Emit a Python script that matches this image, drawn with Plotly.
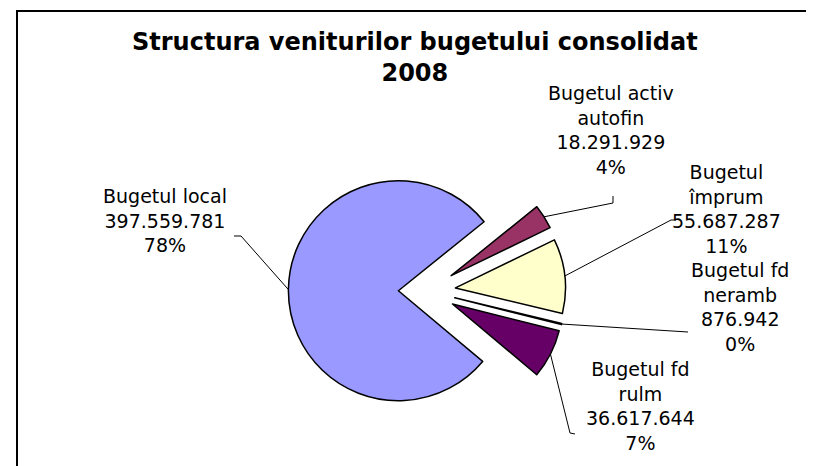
import math
import plotly.graph_objects as go

W, H = 814, 466

labels = ["Bugetul local", "Bugetul activ autofin", "Bugetul împrum",
          "Bugetul fd neramb", "Bugetul fd rulm"]
label_lines = ["Bugetul local", "Bugetul activ<br>autofin", "Bugetul<br>împrum",
               "Bugetul fd<br>neramb", "Bugetul fd<br>rulm"]
values = [397559781, 18291929, 55687287, 876942, 36617644]
colors = ["#9999FF", "#993366", "#FFFFCC", "#CCFFFF", "#660066"]

# pie geometry (pixels)
cx, cy = 419, 283
r = 110
pull = 0.26
rotation = 130
box = 2 * r * (1 + pull)

# label centres and leader-line anchor points (pixels)
label_pos = [(157, 212), (603, 122), (718, 201), (732, 299), (632, 398)]
leader_pts = [[(226, 228), (233, 228)],
              [(605, 188), (605, 195)],
              [(668, 212), (663, 212)],
              [(680, 324)],
              [(567, 426), (562, 425)]]


def px(x):
    return x / W


def py(y):
    return 1 - y / H


total = sum(values)
fig = go.Figure(go.Pie(
    labels=labels, values=values, sort=False, direction="clockwise",
    rotation=rotation, pull=[pull] * len(values),
    marker=dict(colors=colors, line=dict(color="black", width=1.5)),
    textinfo="none", hoverinfo="label+value+percent", showlegend=False,
    domain=dict(x=[px(cx - box / 2), px(cx + box / 2)],
                y=[py(cy + box / 2), py(cy - box / 2)]),
))

annotations = [dict(
    text="<b>Structura veniturilor bugetului consolidat<br>2008</b>",
    x=0.5, y=py(49.5), xref="paper", yref="paper", xanchor="center", yanchor="middle",
    showarrow=False, font=dict(family="DejaVu Sans", size=24, color="black"),
)]
shapes = []

start = rotation
for i, v in enumerate(values):
    frac = v / total
    mid = math.radians(start + frac * 180)
    start += frac * 360
    ex = cx + r * (1 + pull) * math.sin(mid)
    ey = cy - r * (1 + pull) * math.cos(mid)

    txt = "%s<br>%s<br>%d%%" % (label_lines[i], f"{v:,}".replace(",", "."), round(frac * 100))
    lx, ly = label_pos[i]
    annotations.append(dict(
        text=txt, x=px(lx), y=py(ly), xref="paper", yref="paper",
        xanchor="center", yanchor="middle", align="center", showarrow=False,
        font=dict(family="DejaVu Sans", size=19, color="black"),
    ))
    pts = leader_pts[i] + [(ex, ey)]
    path = "M " + " L ".join("%f,%f" % (px(a), py(b)) for a, b in pts)
    shapes.append(dict(type="path", path=path, xref="paper", yref="paper",
                       line=dict(color="black", width=1)))

# chart border
shapes.append(dict(type="rect", xref="paper", yref="paper",
                   x0=px(9), x1=px(805), y0=-0.1, y1=py(3),
                   line=dict(color="black", width=2)))

fig.update_layout(
    width=W, height=H, margin=dict(l=0, r=0, t=0, b=0),
    paper_bgcolor="white", plot_bgcolor="white",
    annotations=annotations, shapes=shapes,
)
fig.write_html("out.html")
